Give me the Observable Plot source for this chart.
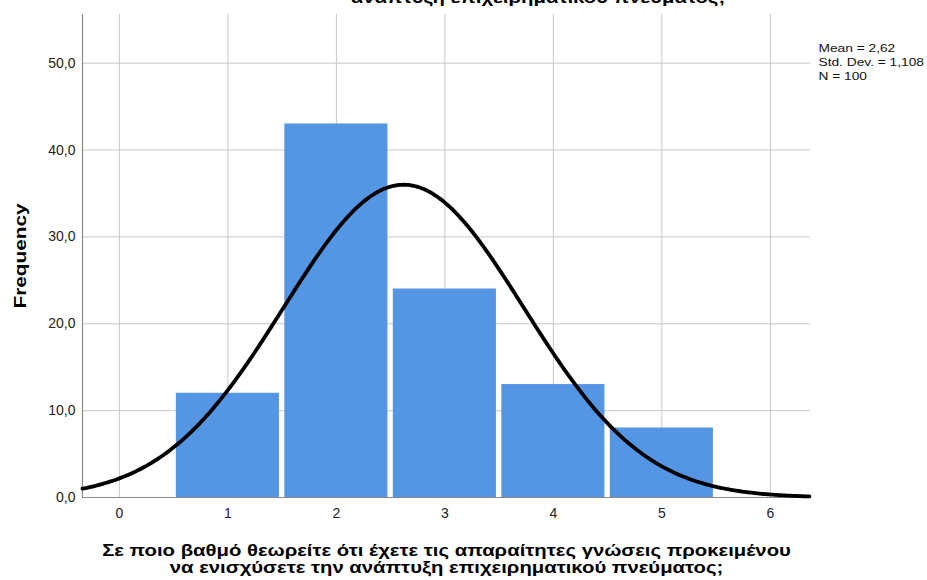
<!DOCTYPE html>
<html>
<head>
<meta charset="utf-8">
<script src="https://cdn.jsdelivr.net/npm/d3@7"></script>
<script src="https://cdn.jsdelivr.net/npm/@observablehq/plot@0.6"></script>
<style>
  html, body { margin: 0; padding: 0; background: #fff; overflow: hidden; }
  #wrap { position: relative; width: 927px; height: 580px; }
  #toptitle { position: absolute; left: 238px; width: 600px; top: -11px; line-height: 18px; text-align: center;
    font: bold 16px "Liberation Sans", Arial, sans-serif; color: #000; white-space: nowrap;
    transform: scaleX(1.27); transform-origin: 50% 50%; }
  #chart svg { position: absolute; left: 0; top: 0; }
</style>
</head>
<body>
<div id="wrap">
  <div id="chart"></div>
  <div id="toptitle">ανάπτυξη επιχειρηματικού πνεύματος;</div>
</div>
<script>
// Data
const categories = [1, 2, 3, 4, 5];
const frequencies = [12, 43, 24, 13, 8];
const xTicks = [0, 1, 2, 3, 4, 5, 6];
const yTicks = [0, 10, 20, 30, 40, 50];
const stats = { mean: 2.62, sd: 1.108, n: 100 };
const legendLines = ["Mean = 2,62", "Std. Dev. = 1,108", "N = 100"];
const xTitle = "Σε ποιο βαθμό θεωρείτε ότι έχετε τις απαραίτητες γνώσεις προκειμένου\nνα ενισχύσετε την ανάπτυξη επιχειρηματικού πνεύματος;";
const yTitle = "Frequency";

const xDomain = [-0.34, 6.37];
const yDomain = [0, 55.6];

const bars = categories.map((c, i) => ({ x1: c - 0.5, x2: c + 0.5, y: frequencies[i] }));

// Normal curve fitted with the stated mean / SD / N (bin width 1)
const curve = d3.range(xDomain[0], xDomain[1] + 0.001, 0.02).map(x => ({
  x,
  y: stats.n / (stats.sd * Math.sqrt(2 * Math.PI)) * Math.exp(-0.5 * ((x - stats.mean) / stats.sd) ** 2)
}));

const fmt = d => d.toFixed(1).replace(".", ",");
const font = '"Liberation Sans", Arial, sans-serif';

const chart = Plot.plot({
  width: 927,
  height: 580,
  marginLeft: 82,
  marginRight: 117,
  marginTop: 14,
  marginBottom: 83,
  style: { fontFamily: font, fontSize: "14px", color: "#222", background: "#fff", overflow: "visible" },
  x: { domain: xDomain, ticks: xTicks },
  y: { domain: yDomain, ticks: yTicks },
  marks: [
    Plot.gridX(xTicks, { stroke: "#c8c8c8", strokeOpacity: 1, strokeWidth: 1 }),
    Plot.gridY(yTicks, { stroke: "#c8c8c8", strokeOpacity: 1, strokeWidth: 1 }),
    Plot.rectY(bars, { x1: "x1", x2: "x2", y: "y", fill: "#5495e4", insetLeft: 2.7, insetRight: 2.7 }),
    Plot.ruleX([xDomain[0]], { stroke: "#8a8a8a", strokeWidth: 1.2 }),
    Plot.ruleY([0], { stroke: "#8a8a8a", strokeWidth: 1.2 }),
    Plot.line(curve, { x: "x", y: "y", stroke: "#000", strokeWidth: 3.8, curve: "basis" }),
    Plot.axisY(yTicks, { tickSize: 0, tickPadding: 7, tickFormat: fmt, label: null, fontSize: 14, fill: "#222" }),
    Plot.axisX(xTicks, { tickSize: 0, tickPadding: 11, tickFormat: d => String(d), label: null, fontSize: 14, fill: "#222" }),
    Plot.text([yTitle], { frameAnchor: "left", rotate: -90, dx: -62, textAnchor: "middle", fontSize: 16, fontWeight: "bold", fill: "#000", className: "stretch-y" }),
    Plot.text([xTitle], { frameAnchor: "bottom", dy: 62, lineAnchor: "middle", lineHeight: 1.06, fontSize: 16, fontWeight: "bold", fill: "#000", textAnchor: "middle", className: "stretch-x" }),
    Plot.text([legendLines.join("\n")], { frameAnchor: "top-right", dx: 8, dy: 28, textAnchor: "start", lineAnchor: "top", lineHeight: 1.25, fontSize: 11, fill: "#111", className: "stretch-l" })
  ]
});
document.getElementById("chart").appendChild(chart);

// Widen the glyphs of the title / legend texts (the reference font is broader)
const stretch = (cls, s) => {
  chart.querySelectorAll(`.${cls} text`).forEach(t => {
    const tr = t.getAttribute("transform") || "";
    t.setAttribute("transform", `${tr} scale(${s},1)`);
  });
};
stretch("stretch-y", 1.3);
stretch("stretch-x", 1.27);
stretch("stretch-l", 1.25);
</script>
</body>
</html>
